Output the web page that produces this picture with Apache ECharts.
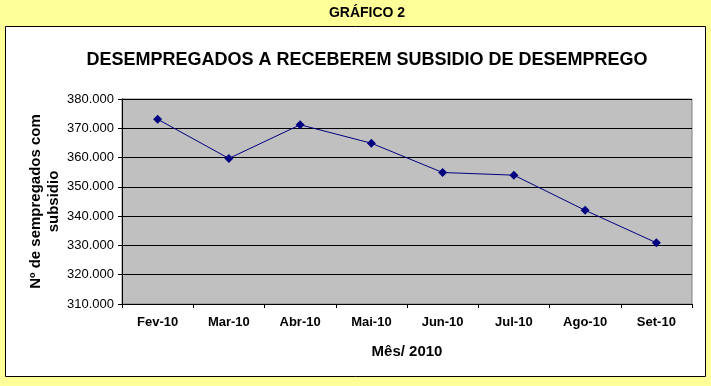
<!DOCTYPE html>
<html><head><meta charset="utf-8">
<script src="https://cdn.jsdelivr.net/npm/echarts@6/dist/echarts.min.js"></script>
<style>html,body{margin:0;padding:0;background:#FFFF99;}#c{width:711px;height:386px;}</style>
</head><body><div id="c"></div>
<script>
const categories = ['Fev-10','Mar-10','Abr-10','Mai-10','Jun-10','Jul-10','Ago-10','Set-10'];
const values = [373100, 359700, 371200, 364900, 354900, 354000, 342000, 330900];
const yMin = 310000, yMax = 380000, yStep = 10000;
const topTitle = 'GRÁFICO 2';
const chartTitle = 'DESEMPREGADOS A RECEBEREM SUBSIDIO DE DESEMPREGO';
const yName = 'Nº de sempregados com\nsubsidio';
const xName = 'Mês/ 2010';

const chart = echarts.init(document.getElementById('c'));
const ff = '"Liberation Sans", Arial, sans-serif';
chart.setOption({
  backgroundColor: '#FFFF99',
  animation: false,
  graphic: [
    {type:'rect', z:-10, shape:{x:5.5,y:26.5,width:700,height:350}, style:{fill:'#fff', stroke:'#000', lineWidth:1}},
    {type:'text', x:367, y:13, style:{text:topTitle, font:'bold 14px '+ff, fill:'#000', align:'center', verticalAlign:'middle'}},
    {type:'text', x:367, y:60, style:{text:chartTitle, font:'bold 18px '+ff, fill:'#000', align:'center', verticalAlign:'middle'}}
  ],
  grid: {left:122, right:19, top:99, bottom:82, show:true, backgroundColor:'#C0C0C0', borderColor:'#808080', borderWidth:1},
  xAxis: {
    type:'category', data:categories, boundaryGap:true,
    name:xName, nameLocation:'middle', nameGap:40, nameMoveOverlap:false,
    nameTextStyle:{fontFamily:ff, fontWeight:'bold', fontSize:15, color:'#000'},
    axisLine:{lineStyle:{color:'#000'}},
    axisTick:{show:true, length:4, lineStyle:{color:'#000'}},
    axisLabel:{fontFamily:ff, fontWeight:'bold', fontSize:13, color:'#000', margin:12}
  },
  yAxis: {
    type:'value', min:yMin, max:yMax, interval:yStep,
    name:yName, nameLocation:'middle', nameGap:59, nameMoveOverlap:false,
    nameTextStyle:{fontFamily:ff, fontWeight:'bold', fontSize:15, color:'#000', lineHeight:18, align:'center'},
    axisLine:{show:true, lineStyle:{color:'#000'}},
    axisTick:{show:true, length:4, lineStyle:{color:'#000'}},
    splitLine:{lineStyle:{color:'#000', width:1}},
    axisLabel:{fontFamily:ff, fontSize:13, color:'#000', margin:8,
      formatter: v => String(v).replace(/\B(?=(\d{3})+(?!\d))/g, '.')}
  },
  series: [{
    type:'line', data:values, symbol:'diamond', symbolSize:9,
    lineStyle:{color:'#000080', width:1}, itemStyle:{color:'#000080'}
  }]
});
</script></body></html>
